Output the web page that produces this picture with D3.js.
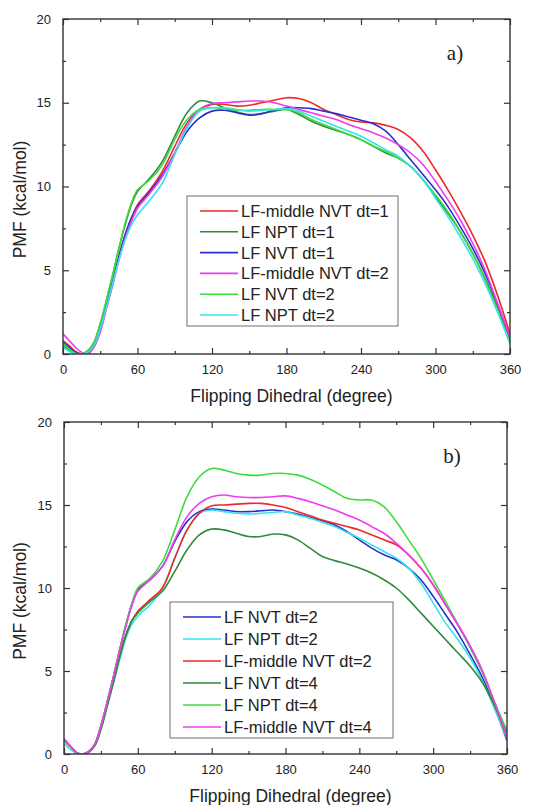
<!DOCTYPE html>
<html>
<head>
<meta charset="utf-8">
<script src="https://cdn.jsdelivr.net/npm/d3@7"></script>
<style>
	body { margin: 0; background: #fff; }
	svg { display: block; }
	text { font-family: Arial, "Liberation Sans", sans-serif; fill: #222; }
</style>
</head>
<body>
<svg id="chart" width="536" height="805"></svg>
<script>

// dihedral angle (degree), shared by every curve
const degrees = [0, 5, 10, 15, 20, 25, 30, 35, 40, 45, 50, 55, 60, 70, 80, 90, 100, 110, 120, 130, 140, 150, 160, 170, 180,
	190, 200, 210, 220, 230, 240, 250, 260, 270, 280, 290, 300, 310, 320, 330, 340, 350, 360];

// panel a)
const a_middleNVT1 = [0.8, 0.5, 0.15, 0.0, 0.1, 0.5, 1.6, 2.9, 4.3, 5.8, 7.1, 8.1, 8.9, 9.8, 10.9, 12.4, 13.8, 14.6, 14.9, 14.9, 14.8, 14.85, 15.0, 15.15, 15.3,
	15.25, 15.0, 14.6, 14.3, 14.0, 13.85, 13.8, 13.65, 13.4, 12.9, 12.1, 11.0, 9.8, 8.5, 7.1, 5.5, 3.5, 1.2];
const a_NPT1 = [0.5, 0.25, 0.05, 0.0, 0.2, 0.7, 1.8, 3.2, 4.7, 6.3, 7.7, 8.9, 9.7, 10.5, 11.5, 13.0, 14.4, 15.1, 15.0, 14.7, 14.45, 14.3, 14.35, 14.5, 14.6,
	14.3, 13.9, 13.6, 13.35, 13.1, 12.8, 12.4, 12.0, 11.7, 11.2, 10.4, 9.4, 8.4, 7.3, 6.0, 4.5, 2.8, 0.8];
const a_NVT1 = [0.7, 0.4, 0.1, 0.0, 0.1, 0.5, 1.5, 2.9, 4.3, 5.8, 7.1, 8.1, 8.8, 9.7, 10.7, 12.0, 13.3, 14.1, 14.5, 14.55, 14.4, 14.25, 14.35, 14.55, 14.7,
	14.7, 14.65, 14.5, 14.35, 14.15, 13.95, 13.75, 13.3, 12.5, 11.6, 10.7, 9.8, 8.8, 7.6, 6.3, 4.8, 3.0, 0.9];
const a_middleNVT2 = [1.2, 0.8, 0.4, 0.1, 0.0, 0.4, 1.3, 2.7, 4.1, 5.6, 6.9, 7.9, 8.7, 9.6, 10.6, 12.0, 13.6, 14.6, 14.95, 15.0, 15.05, 15.1, 15.1, 15.0, 14.8,
	14.6, 14.4, 14.2, 14.0, 13.7, 13.45, 13.2, 12.9, 12.5, 12.0, 11.3, 10.3, 9.2, 8.0, 6.6, 5.0, 3.0, 1.0];
const a_NVT2 = [0.6, 0.3, 0.05, 0.0, 0.2, 0.7, 1.8, 3.2, 4.7, 6.3, 7.8, 9.0, 9.8, 10.4, 11.3, 12.8, 14.0, 14.6, 14.7, 14.65, 14.55, 14.55, 14.6, 14.6, 14.6,
	14.4, 14.0, 13.7, 13.4, 13.1, 12.8, 12.4, 12.1, 11.7, 11.2, 10.4, 9.5, 8.5, 7.3, 6.0, 4.4, 2.6, 0.7];
const a_NPT2 = [0.4, 0.15, 0.0, 0.0, 0.1, 0.5, 1.5, 2.8, 4.2, 5.6, 6.8, 7.7, 8.3, 9.2, 10.2, 11.9, 13.5, 14.5, 14.7, 14.7, 14.6, 14.5, 14.55, 14.6, 14.65,
	14.5, 14.2, 13.9, 13.6, 13.3, 13.0, 12.6, 12.2, 11.8, 11.2, 10.4, 9.3, 8.2, 7.0, 5.7, 4.2, 2.5, 0.6];

// panel b)
const b_NVT2 = [0.9, 0.5, 0.1, 0.0, 0.15, 0.6, 1.7, 3.1, 4.6, 6.2, 7.7, 9.0, 9.9, 10.5, 11.3, 12.8, 14.0, 14.6, 14.75, 14.7, 14.6, 14.6, 14.65, 14.7, 14.6,
	14.45, 14.25, 14.05, 13.8, 13.4, 12.9, 12.4, 12.0, 11.7, 11.2, 10.5, 9.5, 8.4, 7.3, 6.0, 4.6, 2.8, 0.8];
const b_NPT2 = [0.6, 0.3, 0.05, 0.0, 0.1, 0.5, 1.5, 2.8, 4.2, 5.6, 6.9, 7.8, 8.3, 9.0, 10.0, 11.8, 13.5, 14.5, 14.7, 14.6, 14.5, 14.45, 14.5, 14.55, 14.6,
	14.4, 14.2, 13.95, 13.7, 13.35, 13.0, 12.6, 12.2, 11.8, 11.2, 10.3, 9.1, 7.9, 6.9, 5.8, 4.4, 2.7, 0.9];
const b_middleNVT2 = [0.8, 0.45, 0.1, 0.0, 0.1, 0.5, 1.5, 2.9, 4.3, 5.8, 7.1, 8.0, 8.6, 9.3, 10.0, 11.8, 13.5, 14.5, 14.95, 15.0, 15.05, 15.1, 15.1, 15.0, 14.85,
	14.6, 14.35, 14.1, 13.9, 13.7, 13.5, 13.2, 12.9, 12.6, 12.0, 11.2, 10.2, 9.0, 7.8, 6.5, 5.0, 3.0, 1.0];
const b_NVT4 = [0.8, 0.45, 0.1, 0.0, 0.1, 0.5, 1.5, 2.9, 4.3, 5.8, 7.1, 8.0, 8.5, 9.2, 9.8, 11.0, 12.3, 13.2, 13.55, 13.5, 13.3, 13.1, 13.1, 13.25, 13.2,
	12.9, 12.4, 11.9, 11.65, 11.45, 11.2, 10.9, 10.5, 10.0, 9.3, 8.5, 7.7, 6.9, 6.1, 5.3, 4.3, 2.9, 1.3];
const b_NPT4 = [0.8, 0.45, 0.1, 0.0, 0.15, 0.6, 1.7, 3.1, 4.6, 6.2, 7.7, 9.0, 10.0, 10.6, 11.6, 13.5, 15.5, 16.7, 17.2, 17.1, 16.9, 16.8, 16.8, 16.9, 16.9,
	16.8, 16.55, 16.2, 15.8, 15.4, 15.3, 15.3, 14.9, 14.0, 12.9, 11.8, 10.5, 9.2, 7.8, 6.4, 4.9, 3.1, 1.4];
const b_middleNVT4 = [0.9, 0.5, 0.1, 0.0, 0.15, 0.6, 1.7, 3.1, 4.6, 6.2, 7.6, 8.9, 9.8, 10.5, 11.3, 12.9, 14.3, 15.1, 15.5, 15.6, 15.5, 15.45, 15.45, 15.5, 15.55,
	15.4, 15.2, 14.95, 14.7, 14.4, 14.1, 13.7, 13.3, 12.7, 12.0, 11.2, 10.2, 9.0, 7.8, 6.5, 5.0, 3.1, 1.0];

const xTicks = [0, 60, 120, 180, 240, 300, 360];
const yTicks = [0, 5, 10, 15, 20];

const RED = '#ec2a2a', DKGREEN = '#2f8a3a', BLUE = '#2a2ed0', MAGENTA = '#ee3cee', GREEN = '#3ddc3d', CYAN = '#35e4e8';

const panels = [
	{
		label: 'a)', top: 19, bottom: 354, left: 63, right: 510,
		legend: { x: 187, y: 196, w: 211, h: 130, row: 20.8 },
		series: [
			{ name: 'LF-middle NVT dt=1', values: a_middleNVT1, color: RED },
			{ name: 'LF NPT dt=1', values: a_NPT1, color: DKGREEN },
			{ name: 'LF NVT dt=1', values: a_NVT1, color: BLUE },
			{ name: 'LF-middle NVT dt=2', values: a_middleNVT2, color: MAGENTA },
			{ name: 'LF NVT dt=2', values: a_NVT2, color: GREEN },
			{ name: 'LF NPT dt=2', values: a_NPT2, color: CYAN }
		]
	},
	{
		label: 'b)', top: 422, bottom: 754, left: 64, right: 507,
		legend: { x: 170, y: 602, w: 223, h: 136, row: 22 },
		series: [
			{ name: 'LF NVT dt=2', values: b_NVT2, color: BLUE },
			{ name: 'LF NPT dt=2', values: b_NPT2, color: CYAN },
			{ name: 'LF-middle NVT dt=2', values: b_middleNVT2, color: RED },
			{ name: 'LF NVT dt=4', values: b_NVT4, color: DKGREEN },
			{ name: 'LF NPT dt=4', values: b_NPT4, color: GREEN },
			{ name: 'LF-middle NVT dt=4', values: b_middleNVT4, color: MAGENTA }
		]
	}
];

const svg = d3.select('#chart');
svg.append('rect').attr('width', 536).attr('height', 805).attr('fill', '#fff');

panels.forEach(function(p) {

	const x = d3.scaleLinear().domain([0, 360]).range([p.left, p.right]);
	const y = d3.scaleLinear().domain([0, 20]).range([p.bottom, p.top]);
	const g = svg.append('g');

	// curves, clipped to the frame
	const clipId = 'clip' + p.label[0];
	svg.append('clipPath').attr('id', clipId)
		.append('rect').attr('x', p.left).attr('y', p.top).attr('width', p.right - p.left).attr('height', p.bottom - p.top);

	const line = d3.line()
		.x((d, i) => x(degrees[i]))
		.y(d => y(d))
		.curve(d3.curveCatmullRom.alpha(0.5));

	g.append('g').attr('clip-path', 'url(#' + clipId + ')')
		.selectAll('path').data(p.series).join('path')
		.attr('d', d => line(d.values))
		.attr('fill', 'none')
		.attr('stroke', d => d.color)
		.attr('stroke-width', 1.6);

	// axes with inward ticks on all four sides
	const minorX = d3.range(30, 360, 60);
	const minorY = d3.range(2.5, 20, 5);

	function styleAxis(sel) {
		sel.select('.domain').remove();
		sel.selectAll('line').attr('stroke', '#333').attr('stroke-width', 1.2);
		sel.selectAll('text').attr('font-size', 13).attr('fill', '#222').attr('font-family', 'Arial, "Liberation Sans", sans-serif');
	}

	g.append('g').attr('transform', 'translate(0,' + p.bottom + ')')
		.call(d3.axisBottom(x).tickValues(xTicks).tickSizeInner(-6).tickPadding(11).tickFormat(d3.format('d')))
		.call(styleAxis);
	g.append('g').attr('transform', 'translate(0,' + p.bottom + ')')
		.call(d3.axisBottom(x).tickValues(minorX).tickSizeInner(-3).tickFormat(''))
		.call(styleAxis);
	g.append('g').attr('transform', 'translate(0,' + p.top + ')')
		.call(d3.axisTop(x).tickValues(xTicks).tickSizeInner(-6).tickFormat(''))
		.call(styleAxis);
	g.append('g').attr('transform', 'translate(0,' + p.top + ')')
		.call(d3.axisTop(x).tickValues(minorX).tickSizeInner(-3).tickFormat(''))
		.call(styleAxis);

	g.append('g').attr('transform', 'translate(' + p.left + ',0)')
		.call(d3.axisLeft(y).tickValues(yTicks).tickSizeInner(-6).tickPadding(12).tickFormat(d3.format('d')))
		.call(styleAxis);
	g.append('g').attr('transform', 'translate(' + p.left + ',0)')
		.call(d3.axisLeft(y).tickValues(minorY).tickSizeInner(-3).tickFormat(''))
		.call(styleAxis);
	g.append('g').attr('transform', 'translate(' + p.right + ',0)')
		.call(d3.axisRight(y).tickValues(yTicks).tickSizeInner(-6).tickFormat(''))
		.call(styleAxis);
	g.append('g').attr('transform', 'translate(' + p.right + ',0)')
		.call(d3.axisRight(y).tickValues(minorY).tickSizeInner(-3).tickFormat(''))
		.call(styleAxis);

	// frame
	g.append('rect')
		.attr('x', p.left).attr('y', p.top)
		.attr('width', p.right - p.left).attr('height', p.bottom - p.top)
		.attr('fill', 'none').attr('stroke', '#333').attr('stroke-width', 1.4);

	// titles
	g.append('text')
		.attr('x', (p.left + p.right) / 2 + 5).attr('y', p.bottom + 48)
		.attr('text-anchor', 'middle').attr('font-size', 17.5)
		.text('Flipping Dihedral (degree)');
	g.append('text')
		.attr('transform', 'translate(26,' + ((p.top + p.bottom) / 2 + 13) + ') rotate(-90)')
		.attr('text-anchor', 'middle').attr('font-size', 17.5)
		.text('PMF (kcal/mol)');

	g.append('text')
		.attr('x', p.right - 55).attr('y', p.top + 41)
		.attr('text-anchor', 'middle').attr('font-size', 21)
		.style('font-family', '"Liberation Serif", "DejaVu Serif", serif')
		.text(p.label);

	// legend
	const L = p.legend;
	const lg = g.append('g');
	lg.append('rect')
		.attr('x', L.x).attr('y', L.y).attr('width', L.w).attr('height', L.h)
		.attr('fill', '#fff').attr('stroke', '#888').attr('stroke-width', 1.2);
	const rows = lg.selectAll('g.row').data(p.series).join('g').attr('class', 'row')
		.attr('transform', (d, i) => 'translate(' + L.x + ',' + (L.y + 15 + i * L.row) + ')');
	rows.append('line')
		.attr('x1', 13).attr('x2', 51).attr('y1', 0).attr('y2', 0)
		.attr('stroke', d => d.color).attr('stroke-width', 1.6);
	rows.append('text')
		.attr('x', 54).attr('y', 6).attr('font-size', 16.5)
		.text(d => d.name);
});

</script>
</body>
</html>
